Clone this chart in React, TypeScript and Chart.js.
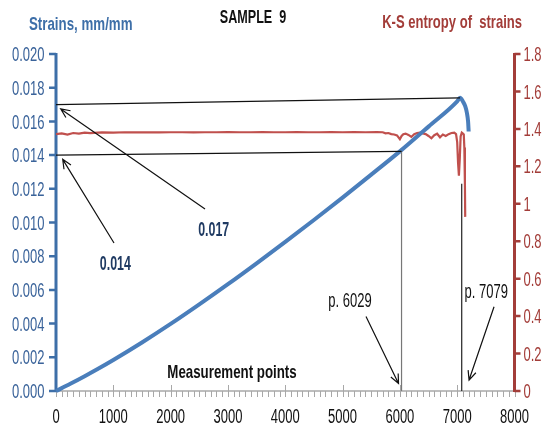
import React, { useEffect, useRef } from "react";
import { Chart, registerables } from "chart.js";

Chart.register(...registerables);

// ---- Data ----
const strainX = [0, 250, 500, 750, 1000, 1500, 2000, 2500, 3000, 3500, 4000, 4500, 5000, 5500, 6000, 6500, 7000, 7050, 7100, 7140, 7170, 7190, 7200];
const strainY = [0, 0.00043, 0.00088, 0.00135, 0.00184, 0.00288, 0.00398, 0.00514, 0.00634, 0.00758, 0.00885, 0.01015, 0.01148, 0.01284, 0.01422, 0.01569, 0.01719, 0.0174, 0.01718, 0.0169, 0.0165, 0.016, 0.0154];

const entropyX = [
  0, 100, 200, 300, 400, 500, 600,
  800, 1000, 1200, 1400, 1600, 1800, 2000, 2200, 2400, 2600, 2800, 3000, 3200, 3400, 3600, 3800, 4000, 4200, 4400, 4600, 4800, 5000, 5200, 5400, 5600,
  5700, 5750, 5800, 5850, 5900, 5950, 6000,
  6030, 6060,
  6100, 6150, 6200, 6250, 6300, 6350, 6400, 6450, 6500, 6550, 6600, 6650, 6700, 6750, 6800, 6850, 6900, 6950,
  6980, 7000, 7015, 7030, 7045, 7060, 7080, 7100, 7115, 7125, 7135, 7140,
];
const entropyY = [
  1.372, 1.376, 1.37, 1.378, 1.375, 1.38, 1.377,
  1.381, 1.38, 1.382, 1.381, 1.382, 1.381, 1.382, 1.382, 1.381, 1.382, 1.382, 1.383, 1.382, 1.382, 1.383, 1.382, 1.382, 1.383, 1.382, 1.382, 1.383, 1.382, 1.383, 1.382, 1.383,
  1.382, 1.376, 1.378, 1.372, 1.37, 1.365, 1.345,
  1.362, 1.372,
  1.375, 1.368, 1.357, 1.372, 1.378, 1.38, 1.376, 1.372, 1.362, 1.35, 1.366, 1.374, 1.355, 1.37, 1.362, 1.372, 1.378, 1.38,
  1.372, 1.33, 1.22, 1.15, 1.24, 1.36, 1.38, 1.375, 1.37, 1.3, 1.1, 0.93,
];

// reference lines: [x0, y0, x1, y1] in data units (left axis)
const peakLine = [0, 0.017, 7050, 0.0174];
const p6029Line = [0, 0.014, 6029, 0.01422];
const p6029Drop = [6029, 0, 6029, 0.01422];
const p7079Drop = [7079, 0, 7079, 0.0123];

// annotation texts and arrows (data units, left axis)
const noteTexts = ["0.017", "0.014", "p. 6029", "p. 7079", "Measurement points"];
const noteX = [2752, 1035, 5130, 7508, 3071];
const noteY = [0.00963, 0.00763, 0.0054, 0.00593, 0.00119];
const arrowFromX = [2600, 1012, 5409, 7643];
const arrowFromY = [0.0108, 0.00878, 0.00442, 0.005];
const arrowToX = [82, 117, 5976, 7207];
const arrowToY = [0.01674, 0.01375, 0.000445, 0.00065];

const xTicks = [0, 1000, 2000, 3000, 4000, 5000, 6000, 7000, 8000];
const leftTicks = ["0.000", "0.002", "0.004", "0.006", "0.008", "0.010", "0.012", "0.014", "0.016", "0.018", "0.020"];
const rightTicks = ["0", "0.2", "0.4", "0.6", "0.8", "1", "1.2", "1.4", "1.6", "1.8"];

const titleText = "SAMPLE  9";
const leftTitle = "Strains, mm/mm";
const rightTitle = "K-S entropy of  strains";

const BLUE = "#4A7EBB";
const BLUE_AXIS = "#3E6FA8";
const BLUE_TEXT = "#3A639A";
const RED = "#C0504D";
const RED_AXIS = "#A33D39";
const NAVY = "#1F3A62";

function pts(xs: number[], ys: number[]) {
  return xs.map((x, i) => ({ x, y: ys[i] }));
}
function seg(a: number[]) {
  return [{ x: a[0], y: a[1] }, { x: a[2], y: a[3] }];
}

export default function App() {
  const ref = useRef<HTMLCanvasElement | null>(null);

  useEffect(() => {
    const canvas = ref.current;
    if (!canvas) return;
    const c2 = canvas.getContext("2d")!;
    c2.font = '40px "Liberation Sans Narrow", monospace';
    const a = c2.measureText("0000 mmm").width;
    c2.font = "40px monospace";
    const b = c2.measureText("0000 mmm").width;
    const narrow = Math.abs(a - b) > 0.5;
    const FAM = narrow ? '"Liberation Sans Narrow", "Liberation Sans", Arial, sans-serif' : '"Liberation Sans", Arial, sans-serif';
    const K = narrow ? 1 / 0.82 : 1;

    const text = (
      ctx: CanvasRenderingContext2D, s: string, x: number, cy: number, size: number,
      bold: boolean, color: string, align: CanvasTextAlign, sx: number
    ) => {
      ctx.save();
      ctx.font = `${bold ? "bold " : ""}${size}px ${FAM}`;
      ctx.fillStyle = color;
      ctx.textBaseline = "alphabetic";
      ctx.textAlign = align;
      ctx.translate(x, cy + 0.358 * size);
      ctx.scale(sx * K, 1);
      ctx.fillText(s, 0, 0);
      ctx.restore();
    };

    const arrow = (ctx: CanvasRenderingContext2D, x0: number, y0: number, x1: number, y1: number) => {
      ctx.save();
      ctx.strokeStyle = "#111";
      ctx.lineWidth = 1.2;
      ctx.beginPath();
      ctx.moveTo(x0, y0);
      ctx.lineTo(x1, y1);
      const ang = Math.atan2(y1 - y0, x1 - x0);
      const L = 10, w = 0.42;
      ctx.moveTo(x1 - L * Math.cos(ang - w), y1 - L * Math.sin(ang - w));
      ctx.lineTo(x1, y1);
      ctx.lineTo(x1 - L * Math.cos(ang + w), y1 - L * Math.sin(ang + w));
      ctx.stroke();
      ctx.restore();
    };

    const TS = 20, TSX = 0.65;

    const deco = {
      id: "deco",
      beforeDatasetsDraw(chart: any) {
        const ctx: CanvasRenderingContext2D = chart.ctx;
        const { left, right, top, bottom } = chart.chartArea;
        const xs = chart.scales.x, ys = chart.scales.y, rs = chart.scales.y1;
        ctx.save();
        ctx.strokeStyle = "#A8A8A8";
        ctx.lineWidth = 1.5;
        ctx.beginPath();
        ctx.moveTo(left, bottom);
        ctx.lineTo(right, bottom);
        ctx.stroke();
        ctx.lineWidth = 1;
        ctx.beginPath();
        for (let v = 0; v <= 8000; v += 100) {
          const px = Math.round(xs.getPixelForValue(v)) + 0.5;
          const major = v % 1000 === 0;
          ctx.moveTo(px, major ? bottom - 6 : bottom);
          ctx.lineTo(px, bottom + 6);
        }
        ctx.stroke();
        xTicks.forEach((v) => {
          text(ctx, String(v), xs.getPixelForValue(v), 416, TS, false, "#111", "center", TSX);
        });
        ctx.strokeStyle = BLUE_AXIS;
        ctx.lineWidth = 3;
        ctx.beginPath();
        ctx.moveTo(left, top - 1);
        ctx.lineTo(left, bottom + 1);
        ctx.stroke();
        ctx.lineWidth = 2.5;
        ctx.beginPath();
        leftTicks.forEach((t) => {
          const py = ys.getPixelForValue(parseFloat(t));
          ctx.moveTo(left - 7, py);
          ctx.lineTo(left, py);
        });
        ctx.stroke();
        leftTicks.forEach((t) => {
          text(ctx, t, left - 11.5, ys.getPixelForValue(parseFloat(t)), TS, false, BLUE_TEXT, "right", TSX);
        });
        ctx.strokeStyle = RED_AXIS;
        ctx.lineWidth = 3;
        ctx.beginPath();
        ctx.moveTo(right, top - 1);
        ctx.lineTo(right, bottom + 1);
        ctx.stroke();
        ctx.lineWidth = 2.5;
        ctx.beginPath();
        rightTicks.forEach((t) => {
          const py = rs.getPixelForValue(parseFloat(t));
          ctx.moveTo(right, py);
          ctx.lineTo(right + 6, py);
        });
        ctx.stroke();
        rightTicks.forEach((t) => {
          text(ctx, t, right + 9, rs.getPixelForValue(parseFloat(t)), TS, false, RED_AXIS, "left", TSX);
        });
        ctx.restore();
      },
      afterDatasetsDraw(chart: any) {
        const ctx: CanvasRenderingContext2D = chart.ctx;
        const xs = chart.scales.x, ys = chart.scales.y;
        arrowFromX.forEach((_, i) => {
          arrow(ctx, xs.getPixelForValue(arrowFromX[i]), ys.getPixelForValue(arrowFromY[i]),
            xs.getPixelForValue(arrowToX[i]), ys.getPixelForValue(arrowToY[i]));
        });
        noteTexts.forEach((t, i) => {
          const px = xs.getPixelForValue(noteX[i]);
          const py = ys.getPixelForValue(noteY[i]);
          if (i < 2) text(ctx, t, px, py, 20, true, NAVY, "center", 0.62);
          else if (i < 4) text(ctx, t, px, py, TS, false, "#111", "center", TSX);
          else text(ctx, t, px, py, 19, true, "#111", "center", 0.7);
        });
        text(ctx, titleText, 253, 17, 17.5, true, "#111", "center", 0.72);
        text(ctx, leftTitle, 29, 23, 19, true, BLUE_AXIS, "left", 0.7);
        text(ctx, rightTitle, 522, 21, 18.5, true, RED_AXIS, "right", 0.705);
      },
    };

    const line = (data: any[], color: string, width: number, extra: any = {}) => ({
      data, borderColor: color, borderWidth: width, showLine: true, pointRadius: 0,
      fill: false, yAxisID: "y", ...extra,
    });

    const chart = new Chart(canvas, {
      type: "scatter",
      data: {
        datasets: [
          line(pts(strainX, strainY), BLUE, 4, { cubicInterpolationMode: "monotone", order: 1, clip: false }),
          line(pts(entropyX, entropyY), RED, 2.2, { yAxisID: "y1", order: 2 }),
          line(seg(peakLine), "#111", 1.2, { order: 0 }),
          line(seg(p6029Line), "#111", 1.2, { order: 0 }),
          line(seg(p6029Drop), "#777", 1.2, { order: 0 }),
          line(seg(p7079Drop), "#222", 1.2, { order: 0 }),
        ],
      },
      options: {
        animation: false,
        responsive: false,
        layout: { padding: { top: 54, left: 0, right: 0, bottom: 0 } },
        plugins: { legend: { display: false }, tooltip: { enabled: false }, title: { display: false } },
        scales: {
          x: {
            type: "linear", min: 0, max: 8000,
            ticks: { stepSize: 1000, display: false },
            grid: { display: false }, border: { display: false },
            afterFit: (s: any) => { s.height = 36; },
          },
          y: {
            position: "left", min: 0, max: 0.02,
            ticks: { stepSize: 0.002, display: false },
            grid: { display: false }, border: { display: false },
            afterFit: (s: any) => { s.width = 56; },
          },
          y1: {
            position: "right", min: 0, max: 1.8,
            ticks: { stepSize: 0.2, display: false },
            grid: { display: false }, border: { display: false },
            afterFit: (s: any) => { s.width = 42.5; },
          },
        },
      },
      plugins: [deco],
    } as any);

    return () => chart.destroy();
  }, []);

  return (
    <div style={{ position: "fixed", left: 0, top: 0, width: 557, height: 427, background: "#fff" }}>
      <canvas ref={ref} width={557} height={427} style={{ display: "block", width: 557, height: 427 }} />
    </div>
  );
}
